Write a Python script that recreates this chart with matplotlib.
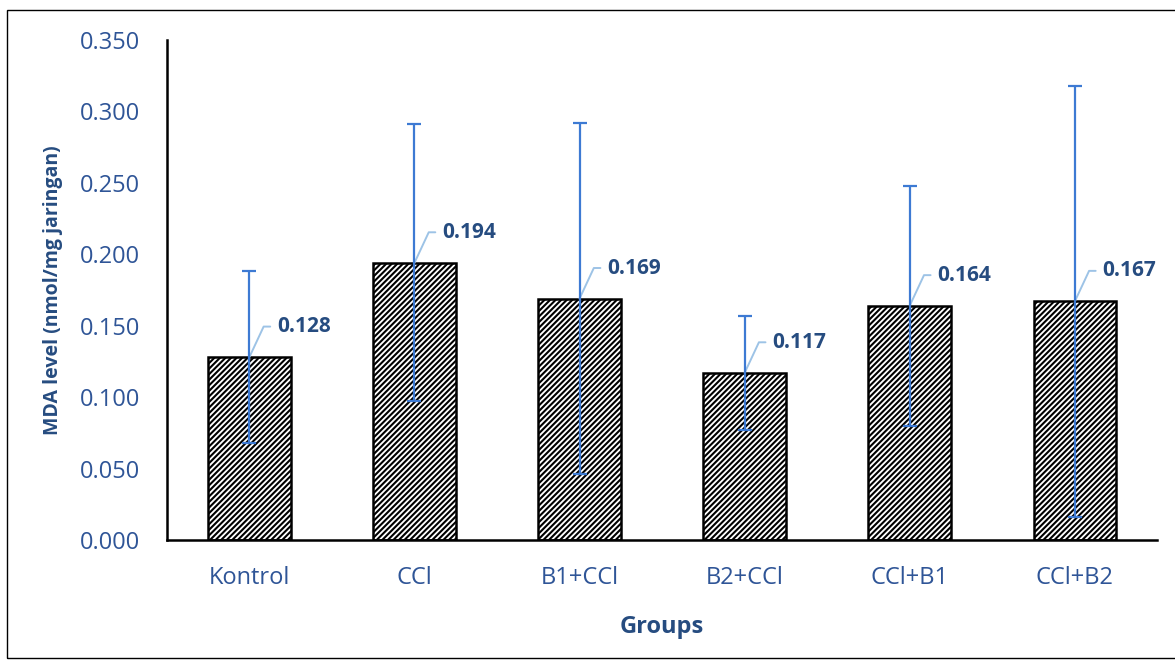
import matplotlib
matplotlib.use("Agg")
import matplotlib.pyplot as plt
from matplotlib.patches import Rectangle
import numpy as np

groups = ["Kontrol", "CCl", "B1+CCl", "B2+CCl", "CCl+B1", "CCl+B2"]
mda = [0.128, 0.194, 0.169, 0.117, 0.164, 0.167]
sd = [0.060, 0.097, 0.123, 0.040, 0.084, 0.151]

plt.rcParams['font.family'] = ['Open Sans', 'DejaVu Sans']
plt.rcParams['hatch.linewidth'] = 1.5

tick_col = "#2F5597"
lab_col = "#264C80"

fig = plt.figure(figsize=(11.75, 6.62), dpi=100)
ax = fig.add_axes([0.142, 0.1843, 0.843, 0.7553])

x = np.arange(len(groups))
ax.bar(x, mda, width=0.5, color="white", edgecolor="black", linewidth=1.8,
       hatch="//////", zorder=2)
ax.errorbar(x, mda, yerr=sd, fmt="none", ecolor="#3D7AD3", elinewidth=1.6,
            capsize=5, capthick=1.6, zorder=4)

for xi, v in zip(x, mda):
    ax.annotate(f"{v:.3f}", xy=(xi, v), xytext=(20, 22), textcoords="offset points",
                ha="left", va="center", fontsize=15, fontweight="bold", color=lab_col,
                arrowprops=dict(arrowstyle="-", color="#9DC3E6", lw=1.4,
                                connectionstyle="angle,angleA=0,angleB=65,rad=0",
                                relpos=(0, 0.5), shrinkA=3, shrinkB=0),
                zorder=3)

ax.set_xlim(-0.5, 5.5)
ax.set_ylim(0, 0.35)
ax.set_yticks(np.arange(0, 0.351, 0.05))
ax.set_yticklabels([f"{t:.3f}" for t in np.arange(0, 0.351, 0.05)])
ax.set_xticks(x)
ax.set_xticklabels(groups)
ax.tick_params(axis="both", length=0, labelsize=17, labelcolor=tick_col, pad=19)

for s in ["top", "right"]:
    ax.spines[s].set_visible(False)
for s in ["left", "bottom"]:
    ax.spines[s].set_linewidth(1.8)
    ax.spines[s].set_color("black")

ax.set_xlabel("Groups", fontsize=17, fontweight="bold", color=lab_col, labelpad=18)
ax.set_ylabel("MDA level (nmol/mg jaringan)", fontsize=14, fontweight="bold",
              color=lab_col, labelpad=12)

fig.patches.append(Rectangle((7 / 1175, 1 - 658 / 662), 1.0, (658 - 10) / 662,
                             transform=fig.transFigure, fill=False,
                             edgecolor="black", linewidth=1.0))

fig.savefig("out.png", dpi=100)
